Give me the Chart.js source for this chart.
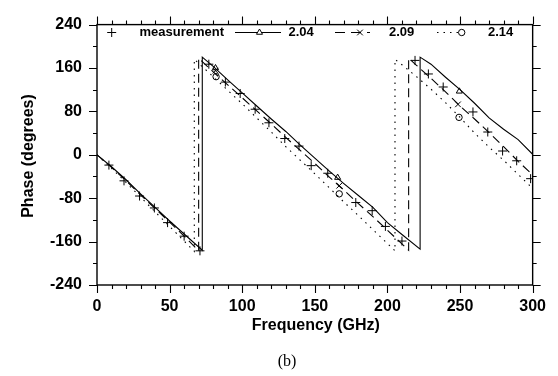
<!DOCTYPE html>
<html>
<head>
<meta charset="utf-8">
<script src="https://cdn.jsdelivr.net/npm/chart.js@4.4.1/dist/chart.umd.min.js"></script>
<style>
  html, body { margin: 0; padding: 0; background: #fff; }
  #c { display: block; }
</style>
</head>
<body>
<canvas id="c" width="558" height="376"></canvas>
<script>
// ---- data ----
const xTicks = [0, 50, 100, 150, 200, 250, 300];
const yTicks = [-240, -160, -80, 0, 80, 160, 240];

const measFreq  = [8.2, 18.6, 29.3, 39.5, 48.6, 60, 70.9, 77, 88.4, 98.6, 108.9, 118.4, 129.3, 139.1, 147.5, 158.9, 178.2, 189.5, 198.6, 210, 219, 228.2, 238.4, 258.9, 269.1, 279.3, 289, 298.6];
const measPhase = [-19, -48, -76, -98, -125, -150, -177, 167, 134, 113, 84, 59, 30, 16, -20, -34, -88, -103, -132, -159, 174, 149, 125, 79, 42, 7, -11, -44];

const f204 = [0, 10, 20, 30, 40, 50, 60, 72.5, 72.5, 80, 90, 100, 110, 120, 130, 140, 150, 160, 170, 180, 190, 200, 210, 222.5, 222.5, 230, 240, 250, 260, 270, 280, 290, 300];
const p204 = [0, -22, -46, -72, -97, -122, -146, -176, 180, 163, 138, 114, 90, 66, 43, 18, -6, -30, -53, -75, -97, -125, -147, -174, 180, 167, 143, 120, 95, 68, 47, 28, 1];

const f209 = [0, 10, 20, 30, 40, 50, 60, 70, 70, 80, 90, 100, 110, 120, 130, 140, 150, 160, 170, 180, 190, 200, 214.6, 214.6, 220, 230, 240, 250, 260, 270, 280, 290, 300];
const p209 = [0, -23, -48, -74, -99, -124, -150, -177, 178, 153, 129, 105, 81, 57, 32, 8, -16, -41, -65, -90, -114, -139, -176, 178, 165, 141, 116, 90, 66, 41, 15, -12, -37];

const f214 = [0, 10, 20, 30, 40, 50, 60, 67, 67, 80, 90, 100, 110, 120, 130, 140, 150, 160, 170, 180, 190, 205.2, 205.2, 210, 220, 230, 240, 250, 260, 270, 280, 290, 300];
const p214 = [0, -25, -51, -78, -105, -132, -159, -178, 176, 144, 119, 94, 68, 42, 15, -10, -35, -61, -87, -112, -138, -177, 176, 166, 144, 121, 96, 69, 40, 14, -10, -36, -62];

const mk204F = [81.6, 165.7, 249.5], mk204P = [160, -42, 117];
const mk209F = [81.6, 166.8, 248.6], mk209P = [155, -57, 93];
const mk214F = [82, 166.8, 249.3],   mk214P = [144, -72, 69];

const legendLabels = ['measurement', '2.04', '2.09', '2.14'];
const xTitle = 'Frequency (GHz)';
const yTitle = 'Phase (degrees)';
const caption = '(b)';

const pts = (xs, ys) => xs.map((x, i) => ({ x: x, y: ys[i] }));

const lineDs = (label, xs, ys, dash) => ({
  label, data: pts(xs, ys), showLine: true, borderColor: '#000', borderWidth: 1.1,
  borderDash: dash, pointRadius: 0, pointHoverRadius: 0, tension: 0, fill: false
});
const markDs = (label, xs, ys, style, r) => ({
  label, data: pts(xs, ys), showLine: false, pointStyle: style, pointRadius: r,
  borderColor: '#000', backgroundColor: 'rgba(0,0,0,0)', pointBorderWidth: 1, pointHoverRadius: r
});

const axisPlugin = {
  id: 'axisDeco',
  afterDraw(chart) {
    const ctx = chart.ctx, a = chart.chartArea;
    const xs = chart.scales.x, ys = chart.scales.y;
    ctx.save();
    ctx.strokeStyle = '#000';
    ctx.lineWidth = 1.4;
    ctx.strokeRect(a.left, a.top, a.right - a.left, a.bottom - a.top);
    ctx.lineWidth = 1.1;
    ctx.beginPath();
    for (let v = xs.min; v <= xs.max; v += 10) {
      const p = Math.round(xs.getPixelForValue(v)) + 0.5;
      const L = (v % 50 === 0) ? 8 : 4;
      ctx.moveTo(p, a.bottom); ctx.lineTo(p, a.bottom + L);
      ctx.moveTo(p, a.top); ctx.lineTo(p, a.top - L);
    }
    for (let v = ys.min; v <= ys.max; v += 40) {
      const p = Math.round(ys.getPixelForValue(v)) + 0.5;
      const L = (v % 80 === 0) ? 8 : 4;
      ctx.moveTo(a.left, p); ctx.lineTo(a.left - L, p);
      ctx.moveTo(a.right, p); ctx.lineTo(a.right + L, p);
    }
    ctx.stroke();

    // axis titles
    ctx.fillStyle = '#000';
    ctx.font = 'bold 16px "Liberation Sans", Arial, sans-serif';
    ctx.textAlign = 'center';
    ctx.textBaseline = 'alphabetic';
    ctx.fillText(xTitle, (a.left + a.right) / 2 + 1, 330);
    ctx.save();
    ctx.translate(33, 156);
    ctx.rotate(-Math.PI / 2);
    ctx.fillText(yTitle, 0, 0);
    ctx.restore();
    ctx.font = '16px "Liberation Serif", "Times New Roman", serif';
    ctx.fillText(caption, 287, 365.5);

    // legend
    const ly = 32.5;
    const dp = Chart.helpers.drawPoint;
    const mark = (style, r, x) => dp(ctx, { pointStyle: style, radius: r, borderWidth: 1, rotation: 0 }, x, ly);
    ctx.strokeStyle = '#000'; ctx.fillStyle = 'rgba(0,0,0,0)';
    ctx.lineWidth = 1;
    mark('cross', 4.5, 111.7);
    const seg = (x1, x2, dash) => {
      ctx.save(); ctx.lineWidth = 1.1; ctx.setLineDash(dash);
      ctx.beginPath(); ctx.moveTo(x1, ly); ctx.lineTo(x2, ly); ctx.stroke(); ctx.restore();
    };
    seg(235, 281, []);
    seg(335, 370, [10, 6]);
    seg(437, 468, [1.5, 5]);
    ctx.fillStyle = '#fff';
    mark('triangle', 3.5, 259.5);
    mark('crossRot', 4, 360);
    mark('circle', 3.2, 461.7);
    ctx.fillStyle = '#000';
    ctx.font = 'bold 13px "Liberation Sans", Arial, sans-serif';
    ctx.textAlign = 'left';
    ctx.textBaseline = 'middle';
    ctx.fillText(legendLabels[0], 139.5, ly);
    ctx.fillText(legendLabels[1], 288.5, ly);
    ctx.fillText(legendLabels[2], 389, ly);
    ctx.fillText(legendLabels[3], 488, ly);
    ctx.restore();
  }
};

new Chart(document.getElementById('c'), {
  type: 'scatter',
  data: {
    datasets: [
      markDs('measurement', measFreq, measPhase, 'cross', 4.5),
      lineDs('2.04', f204, p204, []),
      lineDs('2.09', f209, p209, [9, 5]),
      lineDs('2.14', f214, p214, [1.5, 5]),
      markDs('m2.04', mk204F, mk204P, 'triangle', 3.5),
      markDs('m2.09', mk209F, mk209P, 'crossRot', 4),
      markDs('m2.14', mk214F, mk214P, 'circle', 3.2)
    ]
  },
  options: {
    responsive: false,
    animation: false,
    devicePixelRatio: 1,
    layout: { padding: { top: 16, right: 21, left: 0, bottom: 0 } },
    plugins: { legend: { display: false }, tooltip: { enabled: false } },
    scales: {
      x: {
        type: 'linear', min: 0, max: 300,
        afterBuildTicks: s => { s.ticks = xTicks.map(v => ({ value: v })); },
        afterFit: s => { s.height = 91; },
        grid: { display: false, drawTicks: false },
        border: { display: false },
        ticks: { color: '#000', padding: 12, maxRotation: 0,
          font: { family: '"Liberation Sans", Arial, sans-serif', size: 16, weight: 'bold' },
          callback: v => String(v) }
      },
      y: {
        type: 'linear', min: -240, max: 240,
        afterBuildTicks: s => { s.ticks = yTicks.map(v => ({ value: v })); },
        afterFit: s => { s.width = 97; },
        grid: { display: false, drawTicks: false },
        border: { display: false },
        ticks: { color: '#000', padding: 15,
          font: { family: '"Liberation Sans", Arial, sans-serif', size: 16, weight: 'bold' },
          callback: v => String(v) }
      }
    }
  },
  plugins: [axisPlugin]
});
</script>
</body>
</html>
